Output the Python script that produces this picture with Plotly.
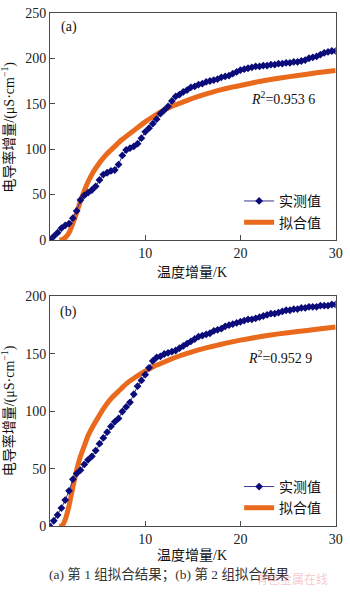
import plotly.graph_objects as go

# ---------------- data ----------------
x_meas = [0.0, 0.4, 0.8, 1.2, 1.6, 2.0, 2.4, 2.8, 3.2, 3.6, 4.0, 4.4, 4.8, 5.2, 5.6, 6.0,
          6.4, 6.8, 7.2, 7.6, 8.0, 8.4, 8.8, 9.2, 9.6, 10.0, 10.4, 10.8, 11.2, 11.6, 12.0,
          12.4, 12.8, 13.2, 13.6, 14.0, 14.4, 14.8, 15.2, 15.6, 16.0, 16.4, 16.8, 17.2,
          17.6, 18.0, 18.4, 18.8, 19.2, 19.6, 20.0, 20.4, 20.8, 21.2, 21.6, 22.0, 22.4,
          22.8, 23.2, 23.6, 24.0, 24.4, 24.8, 25.2, 25.6, 26.0, 26.4, 26.8, 27.2, 27.6,
          28.0, 28.4, 28.8, 29.2, 29.6, 30.0]

a_meas = [0, 4, 8, 13, 16, 18, 24, 32, 44, 49, 52, 55, 59, 66, 72, 74,
          76, 77, 83, 93, 99, 101, 103, 106, 112, 119, 123, 128, 133, 139, 143,
          147, 153, 158, 160, 163, 165, 168, 169, 171, 172, 174, 175, 176,
          177, 179, 180, 181, 183, 185, 187, 188, 189, 190, 191, 191, 192,
          192, 193, 193, 194, 194, 195, 195, 196, 196, 197, 198, 200, 201,
          202, 204, 206, 207, 208, 208]

b_meas = [0, 5, 10, 16, 23, 31, 41, 46, 49, 54, 58, 61, 66, 72, 77, 82,
          87, 91, 94, 100, 104, 108, 115, 122, 127, 132, 138, 144, 147, 148, 150,
          151, 152, 153, 155, 157, 159, 161, 163, 165, 166, 167, 168, 170,
          171, 172, 174, 175, 176, 177, 178, 179, 180, 180, 181, 182, 183,
          184, 185, 185, 186, 187, 188, 188, 189, 189, 190, 190, 191, 191,
          191, 192, 192, 192, 193, 193]

x_fit = [1.0, 1.3, 1.6, 2.0, 2.4, 2.8, 3.2, 3.6, 4.0, 4.5, 5.0, 5.5, 6.0, 6.5, 7.0, 7.5,
         8.0, 9.0, 10.0, 11.0, 12.0, 13.0, 14.0, 15.0, 16.0, 17.0, 18.0, 19.0, 20.0,
         22.0, 24.0, 26.0, 28.0, 30.0]

a_fit = [0, 0.5, 2.5, 8, 18, 30, 43, 54, 64, 74, 82, 89, 95, 100, 105, 110,
         114, 122, 130, 137, 143, 148, 152, 156, 159.5, 162.5, 165.5, 168, 170,
         174.5, 178, 181, 184, 186.5]

b_fit = [0, 1, 6, 18, 34, 49, 61, 70, 79, 87, 94, 101, 107, 112, 116, 120,
         124, 130, 135, 139.5, 143, 146.5, 149.5, 152, 154.5, 156.5, 158.5, 160.3, 162,
         165, 167.5, 169.5, 171.5, 173.5]

r2_a = "0.953 6"
r2_b = "0.952 9"
name_meas = "实测值"
name_fit = "拟合值"
x_title = "温度增量/K"
y_title = "电导率增量/(μS·cm<sup>−1</sup>)"
caption = "(a) 第 1 组拟合结果；(b) 第 2 组拟合结果"

# ---------------- style ----------------
W, H = 350, 592
FONT = "Liberation Serif, Noto Sans CJK SC, serif"
NAVY = "#0b0b7a"
NAVY_LINE = "#3a3a90"
ORANGE = "#E96A1C"
AX = "#4a4a4a"


def px(x):
    return x / W


def py(y):
    return 1 - y / H


fig = go.Figure()

for (ymeas, yfit, xa, ya, leg) in [
    (a_meas, a_fit, "x", "y", "legend"),
    (b_meas, b_fit, "x2", "y2", "legend2"),
]:
    fig.add_trace(go.Scatter(
        x=x_fit, y=yfit, mode="lines", name=name_fit,
        line=dict(color=ORANGE, width=5, shape="spline", smoothing=0.3),
        xaxis=xa, yaxis=ya, legend=leg, legendrank=2))
    fig.add_trace(go.Scatter(
        x=x_meas, y=ymeas, mode="lines+markers", name=name_meas,
        line=dict(color=NAVY_LINE, width=1),
        marker=dict(symbol="diamond", size=6, color=NAVY),
        xaxis=xa, yaxis=ya, legend=leg, legendrank=1))

axis_common = dict(showline=True, linecolor=AX, linewidth=1, mirror=True,
                   ticks="inside", ticklen=5, tickcolor=AX, showgrid=False,
                   zeroline=False, tickfont=dict(family=FONT, size=14, color="#222"))

x_dom = [px(51), px(342.5)]
leg_common = dict(xanchor="left", yanchor="top", bgcolor="rgba(0,0,0,0)",
                  font=dict(family=FONT, size=14, color="#111"),
                  tracegroupgap=0, itemwidth=30)
fig.update_layout(
    width=W, height=H, margin=dict(l=0, r=0, t=0, b=0),
    paper_bgcolor="white", plot_bgcolor="white",
    font=dict(family=FONT, size=13, color="#222"),
    xaxis=dict(domain=x_dom, range=[0, 30], tickvals=[0, 10, 20, 30],
               ticktext=["", "10", "20", "30"], anchor="y", **axis_common),
    yaxis=dict(domain=[py(239), py(6)], range=[0, 250], dtick=50, anchor="x", **axis_common),
    xaxis2=dict(domain=x_dom, range=[0, 30], tickvals=[0, 10, 20, 30],
                ticktext=["", "10", "20", "30"], anchor="y2", **axis_common),
    yaxis2=dict(domain=[py(533), py(297)], range=[0, 200], dtick=50, anchor="x2", **axis_common),
    legend=dict(x=px(244), y=py(183), **leg_common),
    legend2=dict(x=px(244), y=py(476), **leg_common),
)

ann = []


def add(text, x, y, size=13, xanchor="center", yanchor="middle", angle=0, color="#111"):
    ann.append(dict(text=text, x=px(x), y=py(y), xref="paper", yref="paper",
                    showarrow=False, xanchor=xanchor, yanchor=yanchor, textangle=angle,
                    font=dict(family=FONT, size=size, color=color)))


add("(a)", 60, 21, 14, xanchor="left")
add("(b)", 59, 313, 14, xanchor="left")
add("<i>R</i><sup>2</sup>=" + r2_a, 254, 93, 14, xanchor="left")
add("<i>R</i><sup>2</sup>=" + r2_b, 251, 359, 14, xanchor="left")
add(x_title, 196, 272, 14)
add(x_title, 196, 563, 14)
add(y_title, 9, 123, 14, angle=-90)
add(y_title, 9, 414, 14, angle=-90)
add(caption, 172, 582, 13.5, color="#333")
add("有色金属在线", 298, 587, 12, color="rgba(235,130,140,0.45)")
fig.update_layout(annotations=ann)

fig.write_html("out.html")
